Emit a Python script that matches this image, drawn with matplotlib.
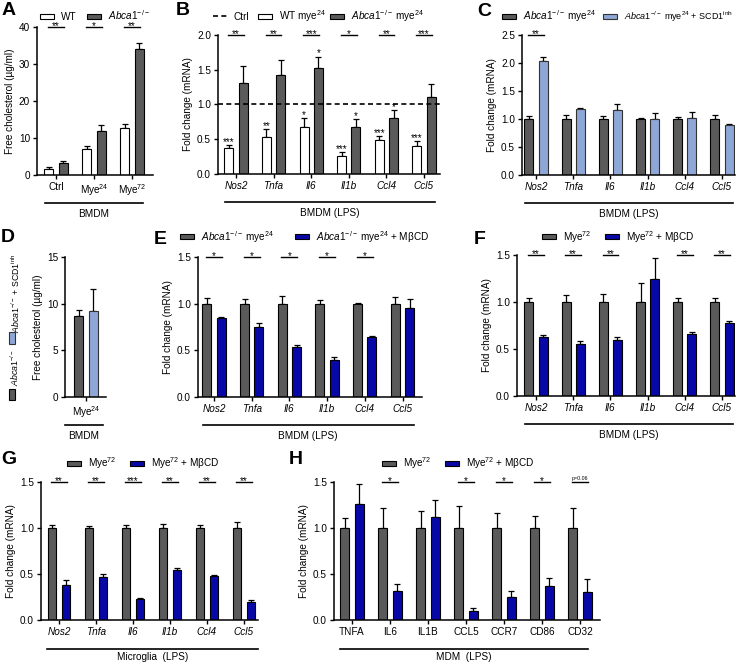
import numpy as np
import matplotlib
matplotlib.use('Agg')
import matplotlib.pyplot as plt
from matplotlib.patches import Rectangle
from matplotlib.lines import Line2D
from matplotlib.transforms import offset_copy

plt.rcParams['font.family'] = ['Liberation Sans', 'DejaVu Sans']
plt.rcParams['mathtext.fontset'] = 'custom'
plt.rcParams['mathtext.rm'] = 'Liberation Sans'
plt.rcParams['mathtext.it'] = 'Liberation Sans:italic'
plt.rcParams['font.size'] = 7

W, H = 742, 664
GRAY = '#5a5a5a'
LBLUE = '#8ea7d6'
DBLUE = '#0808a8'
FS = 7.2

# ---- data ----
genes = ['Nos2', 'Tnfa', 'Il6', 'Il1b', 'Ccl4', 'Ccl5']
human_genes = ['TNFA', 'IL6', 'IL1B', 'CCL5', 'CCR7', 'CD86', 'CD32']

a_groups = ['Ctrl', 'Mye$^{24}$', 'Mye$^{72}$']
a_wt = [1.7, 7.0, 12.8]
a_wt_err = [0.5, 0.9, 0.9]
a_ko = [3.3, 11.9, 34.0]
a_ko_err = [0.5, 1.5, 1.7]
a_sig = ['**', '*', '**']

b_wt = [0.38, 0.53, 0.68, 0.26, 0.49, 0.40]
b_wt_err = [0.04, 0.12, 0.13, 0.05, 0.06, 0.07]
b_ko = [1.31, 1.43, 1.52, 0.67, 0.81, 1.11]
b_ko_err = [0.25, 0.21, 0.17, 0.12, 0.11, 0.18]
b_sig = ['**', '**', '***', '*', '**', '***']
b_wt_sig = ['***', '**', '*', '***', '***', '***']
b_ko_sig = ['', '', '*', '*', '*', '']

c_ko = [1.0, 1.0, 1.0, 1.0, 1.0, 1.0]
c_ko_err = [0.06, 0.07, 0.05, 0.02, 0.04, 0.07]
c_inh = [2.03, 1.17, 1.16, 1.00, 1.01, 0.89]
c_inh_err = [0.07, 0.03, 0.11, 0.10, 0.12, 0.02]
c_sig = ['**', '', '', '', '', '']

d_groups = ['Mye$^{24}$']
d_ko = [8.7]
d_ko_err = [0.6]
d_inh = [9.2]
d_inh_err = [2.4]

e_ko = [1.0, 1.0, 1.0, 1.0, 1.0, 1.0]
e_ko_err = [0.06, 0.05, 0.08, 0.04, 0.01, 0.07]
e_mbcd = [0.85, 0.75, 0.54, 0.40, 0.64, 0.95]
e_mbcd_err = [0.01, 0.04, 0.02, 0.03, 0.01, 0.10]
e_sig = ['*', '*', '*', '*', '*', '']

f_ctrl = [1.0, 1.0, 1.0, 1.0, 1.0, 1.0]
f_ctrl_err = [0.04, 0.07, 0.09, 0.20, 0.04, 0.04]
f_mbcd = [0.63, 0.55, 0.60, 1.25, 0.66, 0.78]
f_mbcd_err = [0.02, 0.03, 0.03, 0.22, 0.02, 0.02]
f_sig = ['**', '**', '**', '', '**', '**']

g_ctrl = [1.0, 1.0, 1.0, 1.0, 1.0, 1.0]
g_ctrl_err = [0.03, 0.02, 0.03, 0.04, 0.03, 0.06]
g_mbcd = [0.38, 0.47, 0.23, 0.54, 0.48, 0.20]
g_mbcd_err = [0.05, 0.03, 0.01, 0.02, 0.01, 0.02]
g_sig = ['**', '**', '***', '**', '**', '**']

h_ctrl = [1.0, 1.0, 1.0, 1.0, 1.0, 1.0, 1.0]
h_ctrl_err = [0.11, 0.22, 0.18, 0.24, 0.16, 0.13, 0.22]
h_mbcd = [1.26, 0.31, 1.12, 0.10, 0.25, 0.37, 0.30]
h_mbcd_err = [0.22, 0.08, 0.18, 0.03, 0.07, 0.09, 0.15]
h_sig = ['', '*', '', '*', '*', '*', 'p=0.06']

KO = r'$\it{Abca1}^{-/-}$'
KO24 = KO + ' mye$^{24}$'
M72 = 'Mye$^{72}$'
SCD = ' + SCD1$^{\\mathrm{inh}}$'

fig = plt.figure(figsize=(W / 100, H / 100), dpi=100)


def panel(x0, x1, ytop, ybot, c0, s, labels, ymax, yticks, yfmt, ylabel, italic=True):
    ax = fig.add_axes([x0 / W, 1 - ybot / H, (x1 - x0) / W, (ybot - ytop) / H])
    ax.set_xlim((x0 - c0) / s, (x1 - c0) / s)
    ax.set_ylim(0, ymax)
    ax.set_yticks(yticks)
    ax.set_yticklabels([yfmt.format(t) for t in yticks])
    ax.set_xticks(np.arange(len(labels)))
    ax.set_xticklabels(labels, style='italic' if italic else 'normal')
    for sp in ['top', 'right']:
        ax.spines[sp].set_visible(False)
    for sp in ['left', 'bottom']:
        ax.spines[sp].set_linewidth(1.1)
    ax.tick_params(direction='out', length=3, width=1, labelsize=FS, pad=2)
    ax.set_ylabel(ylabel, fontsize=FS, labelpad=3)
    return ax


def bars(ax, vals, errs, off, color, edge='black'):
    x = np.arange(len(vals)) + off
    ax.bar(x, vals, 0.24, color=color, edgecolor=edge, linewidth=0.8, zorder=2)
    ax.errorbar(x, vals, yerr=[np.zeros(len(vals)), errs], fmt='none', ecolor='black',
                elinewidth=0.9, capsize=2, capthick=0.9, zorder=1)


def sig_top(ax, marks, y):
    for i, m in enumerate(marks):
        if not m:
            continue
        ax.plot([i - 0.21, i + 0.21], [y, y], color='black', lw=1, clip_on=False)
        if m.startswith('p'):
            ax.annotate(m, (i, y), xytext=(0, 0.6), textcoords='offset points',
                        ha='center', va='bottom', fontsize=3.8)
        else:
            ax.annotate(m, (i, y), xytext=(0, -1.6), textcoords='offset points',
                        ha='center', va='baseline', fontsize=7)


def bar_stars(ax, marks, vals, errs, off):
    for i, m in enumerate(marks):
        if m:
            ax.annotate(m, (i + off, vals[i] + errs[i]), xytext=(0, 0), textcoords='offset points',
                        ha='center', va='baseline', fontsize=7)


def bracket(ax, xa, xb, text, dl=28, dt=39):
    tl = offset_copy(ax.get_xaxis_transform(), fig=fig, y=-dl, units='dots')
    tt = offset_copy(ax.get_xaxis_transform(), fig=fig, y=-dt, units='dots')
    ax.plot([xa, xb], [0, 0], color='black', lw=1.2, transform=tl, clip_on=False)
    ax.text((xa + xb) / 2, 0, text, ha='center', va='center', fontsize=FS, transform=tt)


def leg(x, y, color, label, edge='black', fs=FS):
    if color == 'dash':
        fig.add_artist(Line2D([x / W, (x + 15) / W], [1 - y / H] * 2, color='black', lw=1.2,
                              ls=(0, (3, 2)), transform=fig.transFigure))
    else:
        fig.add_artist(Rectangle((x / W, 1 - (y + 2.5) / H), 14 / W, 5 / H, facecolor=color,
                                 edgecolor=edge, lw=0.8, transform=fig.transFigure))
    fig.text((x + 21) / W, 1 - (y + 3.6) / H, label, va='baseline', ha='left', fontsize=fs)


def letter(x, y, t):
    fig.text(x / W, 1 - y / H, t, fontsize=14, fontweight='bold', va='top', ha='left')


# ---- A ----
ax = panel(37, 153, 27, 175, 56, 38, a_groups, 40, [0, 10, 20, 30, 40], '{:.0f}',
           'Free cholesterol (µg/ml)', italic=False)
bars(ax, a_wt, a_wt_err, -0.19, 'white')
bars(ax, a_ko, a_ko_err, 0.19, GRAY)
sig_top(ax, a_sig, 40)
bracket(ax, -0.3, 2.3, 'BMDM')
leg(40, 16, 'white', 'WT')
leg(87, 16, GRAY, KO)
letter(2, 2, 'A')

# ---- B ----
ax = panel(218, 440, 35, 174, 236, 37.6, genes, 2.0, [0, 0.5, 1.0, 1.5, 2.0], '{:.1f}',
           'Fold change (mRNA)')
ax.axhline(1.0, color='black', lw=1.2, ls=(0, (3, 2)), zorder=3)
bars(ax, b_wt, b_wt_err, -0.19, 'white')
bars(ax, b_ko, b_ko_err, 0.19, GRAY)
bar_stars(ax, b_wt_sig, b_wt, b_wt_err, -0.19)
bar_stars(ax, b_ko_sig, b_ko, b_ko_err, 0.19)
sig_top(ax, b_sig, 2.0)
bracket(ax, -0.3, 5.3, 'BMDM (LPS)')
leg(213, 16, 'dash', 'Ctrl')
leg(258, 16, 'white', 'WT mye$^{24}$')
leg(330, 16, GRAY, KO24)
letter(176, 2, 'B')

# ---- C ----
ax = panel(522, 735, 35, 175, 536, 37.2, genes, 2.5, [0, 0.5, 1.0, 1.5, 2.0, 2.5], '{:.1f}',
           'Fold change (mRNA)')
bars(ax, c_ko, c_ko_err, -0.19, GRAY)
bars(ax, c_inh, c_inh_err, 0.19, LBLUE, edge='#333333')
sig_top(ax, c_sig, 2.5)
bracket(ax, -0.3, 5.3, 'BMDM (LPS)')
leg(502, 16, GRAY, KO24)
leg(603, 16, LBLUE, KO24 + SCD, edge='#333333', fs=6.5)
letter(477, 3, 'C')

# ---- D ----
ax = panel(65, 106, 257, 397, 86, 38, d_groups, 15, [0, 5, 10, 15], '{:.0f}',
           'Free cholesterol (µg/ml)', italic=False)
bars(ax, d_ko, d_ko_err, -0.19, GRAY)
bars(ax, d_inh, d_inh_err, 0.19, LBLUE, edge='#333333')
bracket(ax, -0.55, 0.45, 'BMDM')
fig.add_artist(Rectangle((9 / W, 1 - 400 / H), 6 / W, 11 / H, facecolor=GRAY, edgecolor='black',
                         lw=0.8, transform=fig.transFigure))
fig.add_artist(Rectangle((9 / W, 1 - 344 / H), 6 / W, 12 / H, facecolor=LBLUE, edgecolor='#333333',
                         lw=0.8, transform=fig.transFigure))
fig.text(15 / W, 1 - 368 / H, KO, rotation=90, ha='center', va='center', fontsize=6.3)
fig.text(16 / W, 1 - 293 / H, KO + SCD, rotation=90, ha='center', va='center', fontsize=6.3)
letter(1, 229, 'D')

# ---- E ----
ax = panel(198, 422, 257, 397, 214, 37.7, genes, 1.5, [0, 0.5, 1.0, 1.5], '{:.1f}',
           'Fold change (mRNA)')
bars(ax, e_ko, e_ko_err, -0.19, GRAY)
bars(ax, e_mbcd, e_mbcd_err, 0.19, DBLUE)
sig_top(ax, e_sig, 1.5)
bracket(ax, -0.3, 5.3, 'BMDM (LPS)')
leg(180, 237, GRAY, KO24)
leg(295, 237, DBLUE, KO24 + ' + MβCD')
letter(154, 231, 'E')

# ---- F ----
ax = panel(517, 735, 255, 396, 536, 37.2, genes, 1.5, [0, 0.5, 1.0, 1.5], '{:.1f}',
           'Fold change (mRNA)')
bars(ax, f_ctrl, f_ctrl_err, -0.19, GRAY)
bars(ax, f_mbcd, f_mbcd_err, 0.19, DBLUE)
sig_top(ax, f_sig, 1.5)
bracket(ax, -0.3, 5.3, 'BMDM (LPS)')
leg(542, 237, GRAY, M72)
leg(605, 237, DBLUE, M72 + ' + MβCD')
letter(474, 231, 'F')

# ---- G ----
ax = panel(41, 258, 482, 620, 59, 37, genes, 1.5, [0, 0.5, 1.0, 1.5], '{:.1f}',
           'Fold change (mRNA)')
bars(ax, g_ctrl, g_ctrl_err, -0.19, GRAY)
bars(ax, g_mbcd, g_mbcd_err, 0.19, DBLUE)
sig_top(ax, g_sig, 1.5)
bracket(ax, -0.32, 5.38, 'Microglia  (LPS)', dl=29, dt=37)
leg(67, 463, GRAY, M72)
leg(130, 463, DBLUE, M72 + ' + MβCD')
letter(1, 451, 'G')

# ---- H ----
ax = panel(334, 600, 482, 620, 352, 38, human_genes, 1.5, [0, 0.5, 1.0, 1.5], '{:.1f}',
           'Fold change (mRNA)', italic=False)
bars(ax, h_ctrl, h_ctrl_err, -0.19, GRAY)
bars(ax, h_mbcd, h_mbcd_err, 0.19, DBLUE)
sig_top(ax, h_sig, 1.5)
bracket(ax, -0.32, 6.2, 'MDM  (LPS)', dl=29, dt=37)
leg(382, 463, GRAY, M72)
leg(445, 463, DBLUE, M72 + ' + MβCD')
letter(289, 451, 'H')

fig.savefig('out.png', dpi=100)
